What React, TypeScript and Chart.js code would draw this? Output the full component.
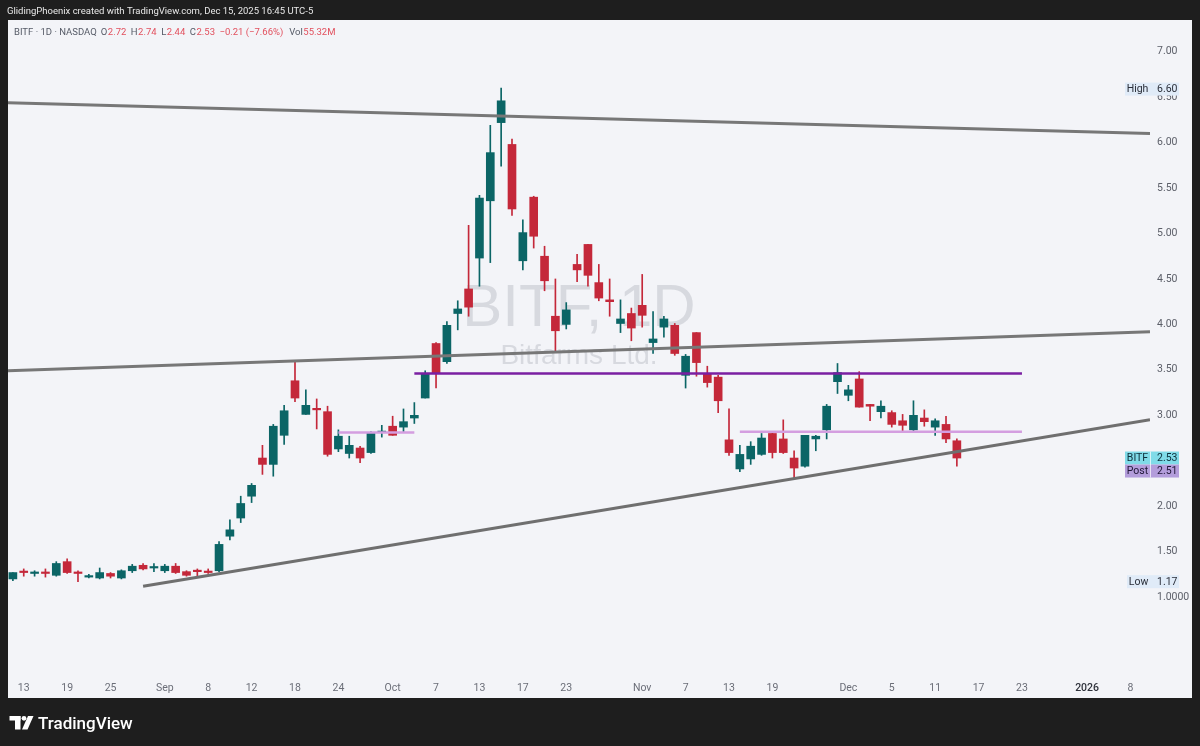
import React, { useEffect, useRef } from 'react';
import { Chart, registerables } from 'chart.js';

Chart.register(...registerables);

// ---- DATA ----
const dates = [
  '2025-08-12','2025-08-13','2025-08-14','2025-08-15','2025-08-18','2025-08-19','2025-08-20','2025-08-21','2025-08-22','2025-08-25','2025-08-26','2025-08-27','2025-08-28','2025-08-29',
  '2025-09-02','2025-09-03','2025-09-04','2025-09-05','2025-09-08','2025-09-09','2025-09-10','2025-09-11','2025-09-12','2025-09-15','2025-09-16','2025-09-17','2025-09-18','2025-09-19','2025-09-22','2025-09-23','2025-09-24','2025-09-25','2025-09-26','2025-09-29','2025-09-30',
  '2025-10-01','2025-10-02','2025-10-03','2025-10-06','2025-10-07','2025-10-08','2025-10-09','2025-10-10','2025-10-13','2025-10-14','2025-10-15','2025-10-16','2025-10-17','2025-10-20','2025-10-21','2025-10-22','2025-10-23','2025-10-24','2025-10-27','2025-10-28','2025-10-29','2025-10-30','2025-10-31',
  '2025-11-03','2025-11-04','2025-11-05','2025-11-06','2025-11-07','2025-11-10','2025-11-11','2025-11-12','2025-11-13','2025-11-14','2025-11-17','2025-11-18','2025-11-19','2025-11-20','2025-11-21','2025-11-24','2025-11-25','2025-11-26','2025-11-28',
  '2025-12-01','2025-12-02','2025-12-03','2025-12-04','2025-12-05','2025-12-08','2025-12-09','2025-12-10','2025-12-11','2025-12-12','2025-12-15',
];

const opens = [
  1.20,1.28,1.26,1.27,1.24,1.39,1.27,1.22,1.21,1.26,1.21,1.29,1.35,1.32,
  1.29,1.34,1.28,1.29,1.28,1.29,1.67,1.87,2.11,2.53,2.46,2.78,3.38,3.01,3.07,3.04,2.63,2.58,2.64,2.59,2.81,
  2.88,2.87,2.97,3.19,3.79,3.59,4.12,4.39,4.73,5.36,6.22,5.98,4.70,5.40,4.75,4.09,4.00,4.66,4.88,4.46,4.27,4.01,4.12,
  4.21,3.80,3.97,3.99,3.44,3.91,3.46,3.42,2.73,2.41,2.52,2.57,2.80,2.74,2.53,2.44,2.74,2.84,3.37,
  3.22,3.40,3.12,3.04,3.03,2.94,2.84,2.97,2.87,2.90,2.72,
];

const highs = [
  1.27,1.31,1.29,1.31,1.39,1.42,1.29,1.25,1.32,1.27,1.30,1.36,1.37,1.37,
  1.36,1.37,1.29,1.31,1.31,1.61,1.85,2.11,2.25,2.67,2.90,3.11,3.59,3.28,3.18,3.10,2.84,2.77,2.66,2.82,2.89,
  2.99,3.07,3.14,3.49,3.80,4.03,4.26,5.09,5.42,6.19,6.60,6.04,5.15,5.41,4.86,4.50,4.24,4.77,4.88,4.66,4.50,4.27,4.18,
  4.55,4.14,4.09,4.01,3.67,3.91,3.54,3.44,3.07,2.67,2.71,2.80,2.81,2.95,2.61,2.78,2.78,3.12,3.57,
  3.33,3.48,3.12,3.16,3.05,3.01,3.16,3.06,2.96,2.99,2.74,
];

const lows = [
  1.18,1.23,1.23,1.22,1.23,1.26,1.17,1.21,1.20,1.21,1.20,1.27,1.30,1.28,
  1.27,1.26,1.23,1.22,1.26,1.28,1.63,1.82,2.04,2.35,2.33,2.68,3.15,3.01,2.85,2.55,2.60,2.53,2.48,2.58,2.76,
  2.78,2.82,2.91,3.19,3.30,3.57,3.94,4.09,4.42,4.68,5.74,5.20,4.60,4.84,4.37,3.69,3.95,4.47,4.42,4.26,4.09,3.91,3.82,
  3.97,3.68,3.86,3.66,3.30,3.43,3.31,3.03,2.56,2.38,2.46,2.56,2.53,2.58,2.31,2.43,2.61,2.74,3.24,
  3.16,3.09,2.94,2.97,2.87,2.83,2.83,2.88,2.78,2.70,2.44,
];

const closes = [
  1.27,1.27,1.27,1.26,1.37,1.27,1.26,1.23,1.27,1.23,1.29,1.34,1.31,1.33,
  1.34,1.27,1.24,1.28,1.27,1.58,1.74,2.03,2.23,2.46,2.88,3.05,3.19,3.11,3.06,2.57,2.77,2.67,2.53,2.81,2.82,
  2.78,2.93,3.00,3.46,3.46,3.99,4.17,4.19,5.39,5.89,6.46,5.27,5.01,4.97,4.48,3.93,4.16,4.60,4.54,4.29,4.25,4.06,3.96,
  4.10,3.84,4.06,3.68,3.65,3.58,3.36,3.16,2.59,2.57,2.66,2.75,2.59,2.59,2.42,2.78,2.77,3.10,3.47,
  3.28,3.09,3.10,3.10,2.90,2.89,3.00,2.93,2.94,2.74,2.53,
];

// x axis (bar index) ticks
const xTickIndex = [1, 5, 9, 14, 18, 22, 26, 30, 35, 39, 43, 47, 51, 58, 62, 66, 70, 77, 81, 85, 89, 93, 99, 103];
const xTickLabels = ['13', '19', '25', 'Sep', '8', '12', '18', '24', 'Oct', '7', '13', '17', '23', 'Nov', '7', '13', '19', 'Dec', '5', '11', '17', '23', '2026', '8'];

// price axis ticks
const yTickValues = [7, 6.5, 6, 5.5, 5, 4.5, 4, 3.5, 3, 2, 1.5, 1];
const yTickLabels = ['7.00', '6.50', '6.00', '5.50', '5.00', '4.50', '4.00', '3.50', '3.00', '2.00', '1.50', '1.0000'];

// drawings: [startIndex, startPrice, endIndex, endPrice]
const trendUpper = [-0.45, 6.44, 104.8, 6.10];
const trendMiddle = [-0.45, 3.49, 104.8, 3.92];
const trendLower = [12.0, 1.12, 104.8, 2.95];
const levelResistance = [37, 3.46, 93, 3.46];
const levelSeptember = [30, 2.81, 37, 2.81];
const levelDecember = [67, 2.82, 93, 2.82];

// price scale labels
const scaleLabelNames = ['High', 'BITF', 'Post', 'Low'];
const scaleLabelValues = [6.60, 2.53, 2.51, 1.17];

// legend
const legendKeys = ['O', 'H', 'L', 'C'];
const legendValues = ['2.72', '2.74', '2.44', '2.53'];
const legendChange = '−0.21 (−7.66%)';
const legendVolume = '55.32M';

const X_MIN = -0.45;
const X_MAX = 104.8;
const Y_MIN = 0.143;
const Y_MAX = 7.349;

const UP = '#0b6566';
const DOWN = '#c4283a';
const FONT = 'Roboto, "Liberation Sans", sans-serif';

function lineDataset(seg: number[], color: string, width: number) {
  return {
    type: 'line' as const,
    data: [{ x: seg[0], y: seg[1] }, { x: seg[2], y: seg[3] }],
    borderColor: color,
    borderWidth: width,
    pointRadius: 0,
    fill: false,
    order: 0,
  };
}

const tvPlugin = {
  id: 'tvDecor',
  beforeDraw(chart: any) {
    const ctx = chart.ctx as CanvasRenderingContext2D;
    ctx.save();
    ctx.fillStyle = '#1e1e1e';
    ctx.fillRect(0, 0, chart.width, chart.height);
    ctx.fillStyle = '#f3f4f8';
    ctx.fillRect(8, 20, 1184, 678);
    // top banner
    ctx.fillStyle = '#e8e8e8';
    ctx.font = `9.5px ${FONT}`;
    ctx.textBaseline = 'middle';
    ctx.textAlign = 'left';
    ctx.fillText('GlidingPhoenix created with TradingView.com, Dec 15, 2025 16:45 UTC-5', 7, 11.5);
    // footer logo
    ctx.fillStyle = '#ffffff';
    ctx.fillRect(9.5, 716, 11, 4.5);
    ctx.fillRect(15, 716, 5.5, 13.5);
    ctx.beginPath();
    ctx.arc(24, 718.3, 2.4, 0, Math.PI * 2);
    ctx.fill();
    ctx.beginPath();
    ctx.moveTo(28, 716);
    ctx.lineTo(33.5, 716);
    ctx.lineTo(27.5, 729.5);
    ctx.lineTo(22, 729.5);
    ctx.closePath();
    ctx.fill();
    ctx.font = `500 17px ${FONT}`;
    ctx.textBaseline = 'alphabetic';
    ctx.fillText('TradingView', 38, 729);
    ctx.restore();
  },
  beforeDatasetsDraw(chart: any) {
    const ctx = chart.ctx as CanvasRenderingContext2D;
    const a = chart.chartArea;
    const cx = (a.left + a.right) / 2;
    const cy = (a.top + a.bottom) / 2;
    ctx.save();
    ctx.fillStyle = 'rgba(120,124,135,0.22)';
    ctx.textAlign = 'center';
    ctx.textBaseline = 'alphabetic';
    ctx.font = `60px "Liberation Sans", Arial, sans-serif`;
    ctx.fillText('BITF, 1D', cx, cy - 22);
    ctx.font = `28px "Liberation Sans", Arial, sans-serif`;
    ctx.fillText('Bitfarms Ltd.', cx, cy + 16);
    ctx.restore();
  },
  afterDraw(chart: any) {
    const ctx = chart.ctx as CanvasRenderingContext2D;
    const ys = chart.scales.y;
    ctx.save();
    // legend line
    ctx.font = `9.5px ${FONT}`;
    ctx.textBaseline = 'middle';
    ctx.textAlign = 'left';
    const gray = '#555a66';
    const red = '#e2505e';
    let x = 14;
    const ly = 32.5;
    const seg = (t: string, c: string, gap = 0) => {
      ctx.fillStyle = c;
      ctx.fillText(t, x, ly);
      x += ctx.measureText(t).width + gap;
    };
    seg('BITF · 1D · NASDAQ', gray, 4);
    legendKeys.forEach((k, i) => {
      seg(k, gray, 0.5);
      seg(legendValues[i], red, 4.5);
    });
    seg(legendChange, red, 6);
    seg('Vol', gray, 0.5);
    seg(legendVolume, red);

    // price scale labels
    ctx.font = `10.5px ${FONT}`;
    const boxH = 13;
    const drawBox = (name: string, value: number, yc: number, bg: string, fg: string, left: number) => {
      const top = yc - boxH / 2;
      ctx.fillStyle = bg;
      ctx.fillRect(left, top, 1179 - left, boxH);
      ctx.fillStyle = fg;
      ctx.textAlign = 'center';
      ctx.fillText(name, (left + 1150) / 2, yc + 0.5);
      ctx.textAlign = 'left';
      ctx.fillText(value.toFixed(2), 1157, yc + 0.5);
    };
    const pHigh = ys.getPixelForValue(scaleLabelValues[0]);
    const pBitf = ys.getPixelForValue(scaleLabelValues[1]);
    const pLow = ys.getPixelForValue(scaleLabelValues[3]);
    drawBox(scaleLabelNames[0], scaleLabelValues[0], pHigh + 1, '#e0ebf8', '#2a2e39', 1125);
    drawBox(scaleLabelNames[1], scaleLabelValues[1], pBitf, '#80dbe8', '#0d2f3a', 1125);
    drawBox(scaleLabelNames[2], scaleLabelValues[2], pBitf + boxH, '#b39ddb', '#1f1536', 1125);
    drawBox(scaleLabelNames[3], scaleLabelValues[3], pLow, '#e0ebf8', '#2a2e39', 1127);
    // separators between name and value in the last-price tags
    ctx.fillStyle = 'rgba(255,255,255,0.7)';
    ctx.fillRect(1150, pBitf - boxH / 2, 1, boxH * 2);
    ctx.restore();
  },
};

export default function App() {
  const ref = useRef<HTMLCanvasElement | null>(null);

  useEffect(() => {
    if (!ref.current) return;
    const colors = closes.map((c, i) => (c >= opens[i] ? UP : DOWN));
    const chart = new Chart(ref.current, {
      type: 'bar',
      data: {
        datasets: [
          lineDataset(trendUpper, '#777777', 3),
          lineDataset(trendMiddle, '#777777', 3),
          lineDataset(trendLower, '#6f6f6f', 3),
          lineDataset(levelResistance, '#7a1fa2', 2.5),
          lineDataset(levelSeptember, '#d49ee0', 2.5),
          lineDataset(levelDecember, '#d49ee0', 2.5),
          {
            type: 'bar' as const,
            label: 'bodies',
            data: dates.map((_, i) => ({ x: i, y: [opens[i], closes[i]] })) as any,
            backgroundColor: colors,
            barThickness: 8,
            minBarLength: 1.5,
            grouped: false,
            order: 1,
          },
          {
            type: 'bar' as const,
            label: 'wicks',
            data: dates.map((_, i) => ({ x: i, y: [lows[i], highs[i]] })) as any,
            backgroundColor: colors,
            barThickness: 1,
            grouped: false,
            order: 2,
          },
        ] as any,
      },
      options: {
        animation: false,
        responsive: false,
        events: [],
        layout: { padding: { left: 8, right: 8, top: 20, bottom: 48 } },
        plugins: { legend: { display: false }, tooltip: { enabled: false } },
        scales: {
          x: {
            type: 'linear',
            min: X_MIN,
            max: X_MAX,
            offset: false,
            grid: { display: false, drawTicks: false },
            border: { display: false },
            afterFit: (s: any) => { s.height = 23; },
            afterBuildTicks: (s: any) => { s.ticks = xTickIndex.map((v) => ({ value: v })); },
            ticks: {
              autoSkip: false,
              maxRotation: 0,
              padding: 7,
              color: (c: any) => (xTickLabels[c.index] === '2026' ? '#2f323b' : '#6b6e78'),
              font: (c: any) => ({ family: FONT, size: 10.5, weight: xTickLabels[c.index] === '2026' ? '500' : 'normal' }),
              callback: (_v: any, i: number) => xTickLabels[i],
            },
          },
          y: {
            type: 'linear',
            position: 'right',
            min: Y_MIN,
            max: Y_MAX,
            beginAtZero: false,
            grid: { display: false, drawTicks: false },
            border: { display: false },
            afterFit: (s: any) => { s.width = 42; },
            afterBuildTicks: (s: any) => { s.ticks = yTickValues.map((v) => ({ value: v })); },
            ticks: {
              autoSkip: false,
              padding: 7,
              crossAlign: 'near',
              color: '#5b5e68',
              font: { family: FONT, size: 10.5 },
              callback: (_v: any, i: number) => yTickLabels[i],
            },
          },
        },
      } as any,
      plugins: [tvPlugin],
    });
    return () => chart.destroy();
  }, []);

  return (
    <div style={{ position: 'absolute', left: 0, top: 0, width: 1200, height: 746, overflow: 'hidden' }}>
      <canvas ref={ref} width={1200} height={746} style={{ display: 'block', width: 1200, height: 746 }} />
    </div>
  );
}
